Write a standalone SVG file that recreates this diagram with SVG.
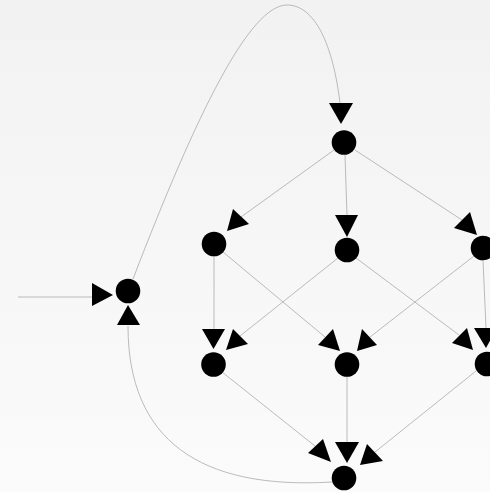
<svg xmlns="http://www.w3.org/2000/svg" width="490" height="492" viewBox="0 0 490 492">
<defs>
<linearGradient id="bg" x1="0" y1="0" x2="0" y2="1">
<stop offset="0" stop-color="#f2f2f2"/>
<stop offset="1" stop-color="#fbfbfb"/>
</linearGradient>
<style>
.e{fill:none;stroke:#a6a6a6;stroke-width:0.75}
.a{fill:#000}
.n{fill:#000}
</style>
</defs>
<rect width="490" height="492" fill="url(#bg)"/>
<g id="connectors">
<path class="e" d="M18,297 L92,297"/>
<polygon class="a" points="92,283 92,306 113,295"/>
<path class="e" d="M332,482 C200,490 128,440 128,326"/>
<polygon class="a" points="117,325 140,325 128,305"/>
<path class="e" d="M133,279 C197,112 250,5 287,5 C315,5 333,45 340,103"/>
<polygon class="a" points="329,103 353,103 341,124"/>
<path class="e" d="M334,150 L241,217"/>
<polygon class="a" points="233,209 249,224 227,231"/>
<path class="e" d="M345,155 L347,215"/>
<polygon class="a" points="335,215 358,215 347,237"/>
<path class="e" d="M355,150 L462,220"/>
<polygon class="a" points="470,212 454,228 477,235"/>
<path class="e" d="M214,256 L214,329"/>
<polygon class="a" points="202,329 225,329 213.5,349"/>
<path class="e" d="M338,258 L240,336"/>
<polygon class="a" points="233,329 248,344 226,350"/>
<path class="e" d="M223,252 L325,337"/>
<polygon class="a" points="318,345 333,329 340,351"/>
<path class="e" d="M474,256 L370,337"/>
<polygon class="a" points="362,329 377,345 357,351"/>
<path class="e" d="M356,258 L459,335"/>
<polygon class="a" points="452,343 467,328 473,350"/>
<path class="e" d="M483,260 L486,328"/>
<polygon class="a" points="474,328 497,328 486,348"/>
<path class="e" d="M222,372 L315,446"/>
<polygon class="a" points="308,453 323,439 331,462"/>
<path class="e" d="M347,376 L347,442"/>
<polygon class="a" points="335,442 359,442 347,463"/>
<path class="e" d="M476,371 L375,452"/>
<polygon class="a" points="367,444 383,461 360,465"/>
</g>
<g id="node-entry"><circle class="n" cx="128" cy="291" r="12.3"/></g>
<g id="node-top"><circle class="n" cx="344" cy="142.5" r="12.3"/></g>
<g id="node-l1"><circle class="n" cx="214" cy="244" r="12.3"/></g>
<g id="node-m1"><circle class="n" cx="347" cy="250" r="12.3"/></g>
<g id="node-r1"><circle class="n" cx="483" cy="248" r="12.3"/></g>
<g id="node-l2"><circle class="n" cx="213.5" cy="364.5" r="12.3"/></g>
<g id="node-m2"><circle class="n" cx="347" cy="364.5" r="12.3"/></g>
<g id="node-r2"><circle class="n" cx="487" cy="364" r="12.3"/></g>
<g id="node-bottom"><circle class="n" cx="344" cy="478" r="12.3"/></g>
</svg>
